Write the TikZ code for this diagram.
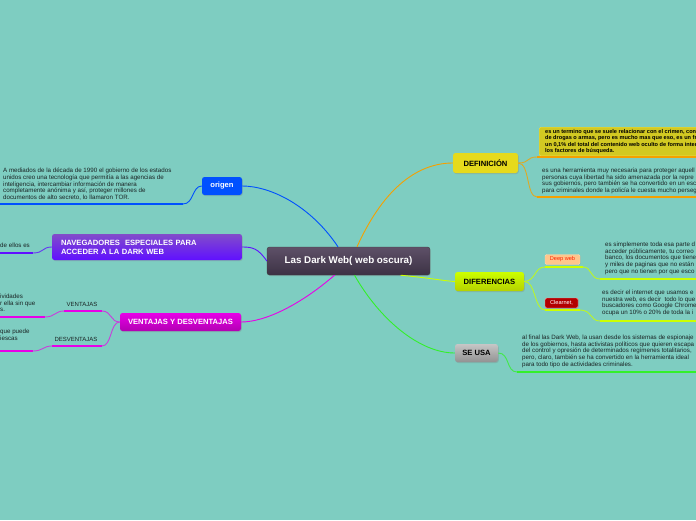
\documentclass[tikz,border=0pt]{standalone}
\usepackage{fontspec}
\setmainfont{Liberation Sans}
\usepackage{tikz}
\usetikzlibrary{shadows}
\definecolor{mmbg}{HTML}{7ECDC1}
\definecolor{mmorange}{HTML}{F5A000}
\definecolor{mmyellow}{HTML}{E6DA1C}
\definecolor{mmolive}{HTML}{D2C922}
\definecolor{mmlime}{HTML}{CCFF00}
\definecolor{mmgreen}{HTML}{33F02A}
\definecolor{mmblue}{HTML}{0050FF}
\definecolor{mmviolet}{HTML}{6010FF}
\definecolor{mmmagenta}{HTML}{E800E8}
\definecolor{mmtext}{HTML}{1A2424}
\definecolor{mmroottop}{HTML}{5E5068}
\definecolor{mmrootbot}{HTML}{3C3244}

\begin{document}
\begin{tikzpicture}[x=1pt,y=-1pt,
  topic/.style={rounded corners=2.5pt,inner sep=2pt,font=\bfseries\fontsize{7.6}{8.8}\selectfont,
    drop shadow={opacity=0.3,shadow xshift=0.8pt,shadow yshift=-1pt}},
  note/.style={anchor=north west,align=left,inner sep=0pt,text=mmtext,font=\fontsize{6.2}{6.6}\selectfont},
  lbl/.style={inner sep=0pt,text=mmtext,font=\fontsize{6}{7}\selectfont},
  tag/.style={rounded corners=1.5pt,inner sep=1pt,minimum height=10pt,font=\fontsize{5.6}{6.6}\selectfont,
    drop shadow={opacity=0.25,shadow xshift=0.6pt,shadow yshift=-0.6pt}},
  uline/.style={line width=2.2pt},
  link/.style={line width=0.9pt}]
  \useasboundingbox (0,0) rectangle (696,520);
  \fill[mmbg] (0,0) rectangle (696,520);
  % centro
  \node[topic,minimum width=163pt,minimum height=28pt,top color=mmroottop,
    bottom color=mmrootbot,draw=black!75,text=white,font=\bfseries\fontsize{9.8}{11}\selectfont]
    (root) at (348.5,261) {Las Dark Web( web oscura)};
  % ramas derecha
  \node[topic,minimum width=65pt,minimum height=20pt,fill=mmyellow] (def) at (485.5,163) {DEFINICIÓN};
  \node[topic,minimum width=69pt,minimum height=19pt,top color=lime!80!yellow,bottom color=lime!55!olive!80!yellow]
    (dif) at (489.5,281.5) {DIFERENCIAS};
  \node[topic,minimum width=43pt,minimum height=18pt,top color=gray!45,bottom color=gray!85] (uso) at (476.5,353) {SE USA};
  % ramas izquierda
  \node[topic,minimum width=40pt,minimum height=18pt,fill=mmblue,text=white] (ori) at (222,186) {origen};
  \node[topic,minimum width=190pt,minimum height=26pt,top color=violet!60!blue!70!white,bottom color=mmviolet,
    text=white,align=left,text width=172pt] (nav) at (147,247)
    {NAVEGADORES\ \ ESPECIALES PARA\\ACCEDER A LA DARK WEB};
  \node[topic,minimum width=121pt,minimum height=18pt,top color=mmmagenta,bottom color=magenta!70!black,text=white]
    (vyd) at (180.5,322) {VENTAJAS Y DESVENTAJAS};
  % definicion
  \node[anchor=north west,fill=mmolive,draw=mmyellow!80!white,rounded corners=1.5pt,inner sep=2pt,
    minimum width=170pt,minimum height=28pt,align=left,text=black,font=\bfseries\fontsize{5.6}{6.5}\selectfont] (d1) at (539,127)
    {es un termino que se suele relacionar con el crimen, con la\\de drogas o armas, pero es mucho mas que eso, es un frag\\un 0,1\% del total del contenido web oculto de forma intenc\\los factores de búsqueda.};
  \coordinate (d1a) at (537,157); \coordinate (d1b) at (696,157);
  \draw[uline,mmorange] (d1a) -- (d1b);
  \node[note] (d2) at (542,168)
    {es una herramienta muy necesaria para proteger aquell\\personas cuya libertad ha sido amenazada por la repre\\sus gobiernos, pero también se ha convertido en un esc\\para criminales donde la policía le cuesta mucho perseg};
  \coordinate (d2a) at (537,197); \coordinate (d2b) at (696,197);
  \draw[uline,mmorange] (d2a) -- (d2b);
  \draw[link,mmorange!80!mmbg] (def.east) .. controls (530,163) and (526,157) .. (d1a);
  \draw[link,mmorange!80!mmbg] (def.east) .. controls (530,163) and (526,197) .. (d2a);
  % diferencias
  \node[tag,fill=orange!45!white,draw=orange!30!white,text=red!75!orange,minimum width=35pt] (deep) at (562.5,259.5) {Deep web};
  \coordinate (da) at (545,267); \coordinate (db) at (583,267);
  \draw[uline,mmlime] (da) -- (db);
  \node[note] (t1) at (605,242)
    {es simplemente toda esa parte d\\acceder públicamente, tu correo\\banco, los documentos que tiene\\y miles de paginas que no están\\pero que no tienen por que esco};
  \coordinate (t1a) at (600,279); \coordinate (t1b) at (696,279);
  \draw[uline,mmlime] (t1a) -- (t1b);
  \node[tag,fill=red!70!black,draw=red!40!white,text=white,minimum width=33pt] (clear) at (561.5,303) {Clearnet,};
  \coordinate (ca) at (545,310); \coordinate (cb) at (580,310);
  \draw[uline,mmlime] (ca) -- (cb);
  \node[note] (t2) at (602,290)
    {es decir el internet que usamos e\\nuestra web, es decir\ \ todo lo que\\buscadores como Google Chrome\\ocupa un 10\% o 20\% de toda la i};
  \coordinate (t2a) at (600,321); \coordinate (t2b) at (696,321);
  \draw[uline,mmlime] (t2a) -- (t2b);
  \draw[link,mmlime!80!mmbg] (dif.east) .. controls (536,281) and (534,267) .. (da);
  \draw[link,mmlime!80!mmbg] (dif.east) .. controls (536,281) and (534,310) .. (ca);
  \draw[link,mmlime!80!mmbg] (db) .. controls (592,267) and (590,279) .. (t1a);
  \draw[link,mmlime!80!mmbg] (cb) .. controls (592,310) and (590,321) .. (t2a);
  % se usa
  \node[note] (t3) at (522,335)
    {al final las Dark Web, la usan desde los sistemas de espionaje\\de los gobiernos, hasta activistas políticos que quieren escapa\\del control y opresión de determinados regímenes totalitarios,\\pero, claro, también se ha convertido en la herramienta ideal\\para todo tipo de actividades criminales.};
  \coordinate (ua) at (517,372); \coordinate (ub) at (696,372);
  \draw[uline,mmgreen] (ua) -- (ub);
  \draw[link,mmgreen!80!mmbg] (uso.east) .. controls (510,353) and (506,372) .. (ua);
  % origen
  \node[note,font=\fontsize{6.2}{6.9}\selectfont] (t4) at (3,167.5)
    {A mediados de la década de 1990 el gobierno de los estados\\unidos creo una tecnología que permitía a las agencias de\\inteligencia, intercambiar información de manera\\completamente anónima y así, proteger millones de\\documentos de alto secreto, lo llamaron TOR.};
  \coordinate (oa) at (0,204); \coordinate (ob) at (183,204);
  \draw[uline,mmblue] (oa) -- (ob);
  \draw[link,mmblue] (ori.west) .. controls (192,186) and (194,204) .. (ob);
  % navegadores
  \node[note,anchor=west] (t5) at (0,245) {de ellos es};
  \coordinate (na) at (0,253) ; \coordinate (nb) at (33,253);
  \draw[uline,mmviolet] (na) -- (nb);
  \draw[link,mmviolet!80!mmbg] (nav.west) .. controls (42,247) and (44,253) .. (nb);
  % ventajas
  \node[lbl] (ven) at (82,304) {VENTAJAS};
  \coordinate (va) at (64,311); \coordinate (vb) at (102,311);
  \draw[uline,mmmagenta] (va) -- (vb);
  \node[lbl] (des) at (76,339) {DESVENTAJAS};
  \coordinate (wa) at (52,346); \coordinate (wb) at (102,346);
  \draw[uline,mmmagenta] (wa) -- (wb);
  \draw[link,mmmagenta!70!mmbg] (vyd.west) .. controls (110,322) and (112,311) .. (vb);
  \draw[link,mmmagenta!70!mmbg] (vyd.west) .. controls (110,322) and (112,346) .. (wb);
  \node[note] (t6) at (0,294) {ividades\\r ella sin que\\s.};
  \coordinate (xa) at (0,317); \coordinate (xb) at (45,317);
  \draw[uline,mmmagenta] (xa) -- (xb);
  \draw[link,mmmagenta!70!mmbg] (va) .. controls (55,311) and (55,317) .. (xb);
  \node[note] (t7) at (0,329) {que puede\\iescas};
  \coordinate (ya) at (0,351); \coordinate (yb) at (33,351);
  \draw[uline,mmmagenta] (ya) -- (yb);
  \draw[link,mmmagenta!70!mmbg] (wa) .. controls (43,346) and (43,351) .. (yb);
  % conectores del centro
  \draw[link,mmblue] ([xshift=-10.5pt]root.north) .. controls (310,205) and (270,186) .. (ori.east);
  \draw[link,mmorange] ([xshift=8.5pt]root.north) .. controls (385,185) and (420,163) .. (def.west);
  \draw[link,mmviolet] (root.west) .. controls (258,248) and (252,247) .. (nav.east);
  \draw[link,mmmagenta] ([xshift=-14pt]root.south) .. controls (300,305) and (265,322) .. (vyd.east);
  \draw[link,mmlime] ([xshift=52pt]root.south) .. controls (430,278) and (445,281) .. (dif.west);
  \draw[link,mmgreen] ([xshift=6pt]root.south) .. controls (380,320) and (420,353) .. (uso.west);
\end{tikzpicture}
\end{document}
